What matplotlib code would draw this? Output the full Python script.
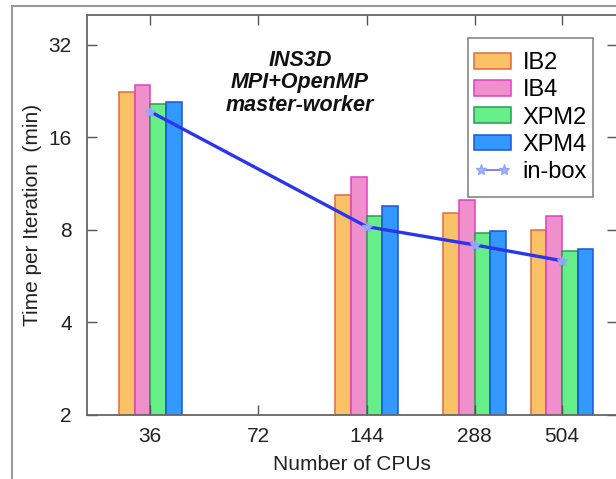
import numpy as np
import matplotlib
matplotlib.use("Agg")
import matplotlib.pyplot as plt
from matplotlib.lines import Line2D

plt.rcParams["font.family"] = ["Liberation Sans", "DejaVu Sans"]

# Data (time per iteration, minutes)
cpus = [36, 144, 288, 504]
tick_cpus = [36, 72, 144, 288, 504]
ib2 = [22.5, 10.4, 9.1, 8.0]
ib4 = [23.6, 11.9, 10.0, 8.9]
xpm2 = [20.6, 8.9, 7.8, 6.85]
xpm4 = [20.9, 9.6, 7.95, 6.95]
inbox = [19.4, 8.2, 7.15, 6.35]

series = [("IB2", ib2, "#f9c266", "#e8683a"),
          ("IB4", ib4, "#ef8fcc", "#e040c4"),
          ("XPM2", xpm2, "#66ee88", "#2a9a50"),
          ("XPM4", xpm4, "#3399ff", "#1a55dd")]

fig = plt.figure(figsize=(6.16, 4.79), dpi=100)
ax = fig.add_axes([87 / 616, 64 / 479, 530 / 616, 400 / 479])
ax.set_xscale("log", base=2)
ax.set_yscale("log", base=2)

# bar width in log2 units, four bars per group
w = 0.145
c = np.array(cpus, dtype=float)
handles = []
for i, (name, vals, fc, ec) in enumerate(series):
    left = c * 2 ** ((i - 2) * w)
    right = c * 2 ** ((i - 1) * w)
    b = ax.bar(left, vals, width=right - left, align="edge", color=fc,
               edgecolor=ec, linewidth=1.1, label=name)
    handles.append(b)

ax.plot(cpus, inbox, color="#2a35ee", linewidth=2.4, marker="*",
        markersize=7, markerfacecolor="#8fa8ff", markeredgecolor="#8fa8ff")
# the legend shows a thinner, lighter version of the line
inbox_handle = Line2D([], [], color="#6f7cf2", linewidth=1.3, marker="*",
                      markersize=8, markerfacecolor="#9fb4ff",
                      markeredgecolor="#8fa4ff")
handles.append(inbox_handle)

ax.set_xlim(24, 717)
ax.set_ylim(2, 40)
ax.set_xticks(tick_cpus)
ax.set_xticklabels([str(t) for t in tick_cpus])
ax.set_yticks([2, 4, 8, 16, 32])
ax.set_yticklabels(["2", "4", "8", "16", "32"])
ax.minorticks_off()
ax.tick_params(direction="in", length=7, width=1, colors="#555555",
               labelcolor="#222222", labelsize=15, top=True, right=True)
ax.tick_params(axis="y", pad=11)
ax.tick_params(axis="x", pad=9)
for s in ax.spines.values():
    s.set_color("#666666")
    s.set_linewidth(1.3)

ax.set_xlabel("Number of CPUs", fontsize=15, color="#222222", labelpad=6)
ax.set_ylabel("Time per Iteration  (min)", fontsize=15, color="#222222",
              labelpad=5)

ax.text(0.402, 0.913, "INS3D\nMPI+OpenMP\nmaster-worker", transform=ax.transAxes,
        ha="center", va="top", fontsize=15.5, fontweight="bold", style="italic",
        linespacing=1.1, color="#111111")

leg = ax.legend(handles, ["IB2", "IB4", "XPM2", "XPM4", "in-box"],
                loc="upper right", bbox_to_anchor=(0.9457, 0.91),
                borderaxespad=0, fontsize=17, fancybox=False, numpoints=2,
                handlelength=1.57, handleheight=0.64, handletextpad=0.5,
                labelspacing=0.22, borderpad=0.05, framealpha=1)
frame = leg.get_frame()
frame.set_edgecolor("#888888")
frame.set_linewidth(1.2)
# more padding above/below the entries than at the sides
frame.set_boxstyle("square", pad=0.2)
frame.set_mutation_aspect(2.7)

# screenshot frame
fig.add_artist(Line2D([12 / 616, 12 / 616], [0, 1 - 6 / 479],
                      transform=fig.transFigure, color="#999999", linewidth=1.5))
fig.add_artist(Line2D([12 / 616, 1], [1 - 6 / 479, 1 - 6 / 479],
                      transform=fig.transFigure, color="#999999", linewidth=1.5))

fig.savefig("out.png", dpi=100)
